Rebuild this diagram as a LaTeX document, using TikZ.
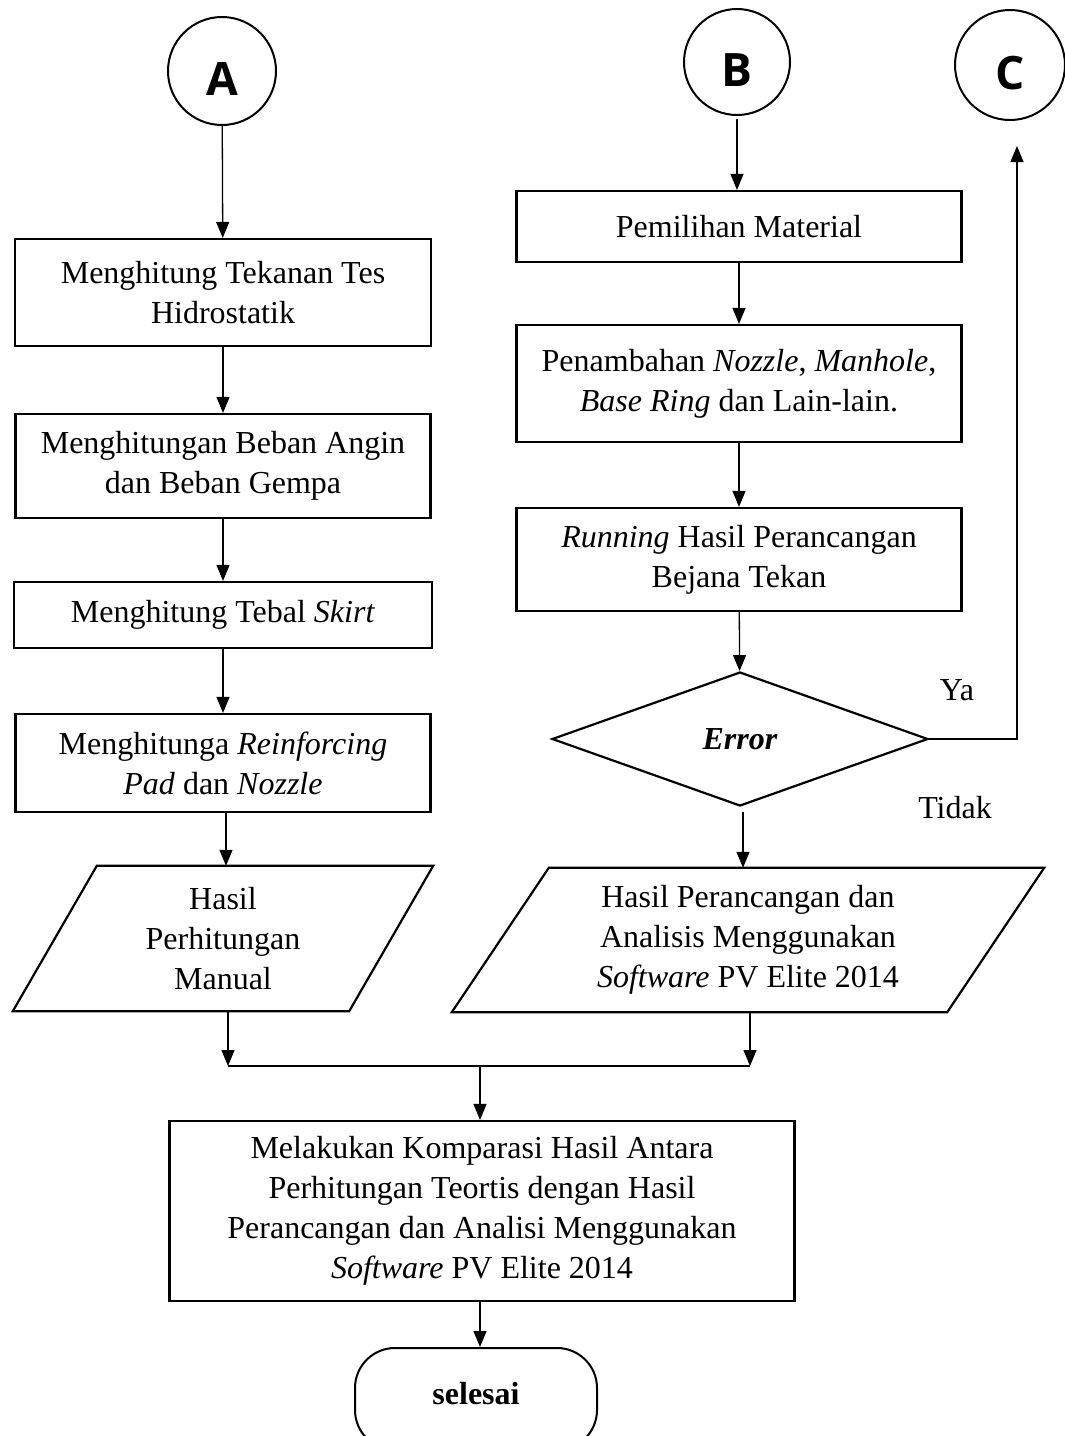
\documentclass[tikz,border=0pt]{standalone}
\usepackage{fontspec}
\setmainfont{Liberation Serif}
\newfontfamily\circfont{Open Sans}
\usetikzlibrary{arrows.meta,shapes.geometric,calc}
\begin{document}
\begin{tikzpicture}[x=1pt,y=-1pt,
  every node/.style={font=\fontsize{32}{40}\selectfont, align=center, inner sep=0pt},
  procbox/.style={draw, line width=2.2pt},
  conn/.style={draw, line width=1.3pt},
  arr/.style={conn, -{Triangle[length=16pt,width=13pt]}},
  circ/.style={draw, circle, line width=2pt, text height=48pt, text depth=0pt, font=\circfont\bfseries\fontsize{46}{46}\selectfont},
  iobox/.style={draw=none},
  outline/.style={line width=2.2pt, line join=miter}
]
\useasboundingbox (0,0) rectangle (1065,1436);
\clip (0,0) rectangle (1065,1436);

% connectors circles
\node[circ, minimum size=108pt] (A) at (222,71) {A};
\node[circ, minimum size=106pt] (B) at (737,62) {B};
\node[circ, minimum size=110pt] (C) at (1010,65) {C};

% left column
\node[procbox, minimum width=416pt, minimum height=107pt] (b1) at (223,292.5) {Menghitung Tekanan Tes\\Hidrostatik};
\node[procbox, minimum width=415pt, minimum height=104pt] (b2) at (223,466) {Menghitungan Beban Angin\\dan Beban Gempa};
\node[procbox, minimum width=418pt, minimum height=66pt] (b3) at (223,615) {Menghitung Tebal \textit{Skirt}};
\node[procbox, minimum width=415pt, minimum height=98pt] (b4) at (223,763) {Menghitunga \textit{Reinforcing}\\\textit{Pad} dan \textit{Nozzle}};
\node[iobox, minimum width=420pt, minimum height=145pt] (p1) at (223,938.5) {Hasil\\Perhitungan\\Manual};
\draw[outline] (p1.south west) -- ($(p1.north west)+(84,0)$) -- (p1.north east) -- ($(p1.south east)+(-84,0)$) -- cycle;

% right column
\node[procbox, minimum width=445pt, minimum height=71pt] (b5) at (739,226.5) {Pemilihan Material};
\node[procbox, minimum width=445pt, minimum height=117pt] (b6) at (739,383.5) {Penambahan \textit{Nozzle}, \textit{Manhole},\\\textit{Base Ring} dan Lain-lain.};
\node[procbox, minimum width=445pt, minimum height=103pt] (b7) at (739,559.5) {\textit{Running} Hasil Perancangan\\Bejana Tekan};
\node[draw, diamond, line width=2.2pt, minimum width=376pt, minimum height=134pt] (dia) at (740,739) {\textbf{\textit{Error}}};
\node[iobox, minimum width=592pt, minimum height=144pt] (p2) at (748,940) {Hasil Perancangan dan\\Analisis Menggunakan\\\textit{Software} PV Elite 2014};
\draw[outline] (p2.south west) -- ($(p2.north west)+(97,0)$) -- (p2.north east) -- ($(p2.south east)+(-97,0)$) -- cycle;

\node (ya) at (957,690) {Ya};
\node (tidak) at (955,808) {Tidak};

% bottom
\node[procbox, minimum width=625pt, minimum height=180pt] (b8) at (482,1211) {Melakukan Komparasi Hasil Antara\\Perhitungan Teortis dengan Hasil\\Perancangan dan Analisi Menggunakan\\\textit{Software} PV Elite 2014};
\node[draw, line width=2pt, rounded corners=40pt, minimum width=242pt, minimum height=102pt, text depth=12pt] (end) at (476,1399) {\textbf{selesai}};

% coordinates
\coordinate (m1) at (228,1066);
\coordinate (m2) at (750,1066);
\coordinate (m3) at (480,1066);
\coordinate (cc) at (1017,739);
\coordinate (ctip) at (1017,146);

% arrows left
\draw[arr] (A) -- (b1);
\draw[arr] (b1) -- (b2);
\draw[arr] (b2) -- (b3);
\draw[arr] (b3) -- (b4);
\draw[arr] (b4.south -| 226,0) -- (p1.north -| 226,0);
% arrows right
\draw[arr, shorten <=3pt] (B) -- (b5.north -| B);
\draw[arr] (b5) -- (b6);
\draw[arr] (b6) -- (b7);
\draw[arr] (b7) -- (dia);
\draw[arr, shorten <=5pt] (dia.south -| 743,0) -- (p2.north -| 743,0);
\draw[arr] (dia.east) -- (cc) -- (ctip);
% merge
\draw[arr] (p1.south -| m1) -- (m1);
\draw[arr] (p2.south -| m2) -- (m2);
\draw[conn] (m1) -- (m2);
\draw[arr] (m3) -- (b8.north -| m3);
\draw[arr] (b8.south -| m3) -- (end.north -| m3);
\end{tikzpicture}
\end{document}
